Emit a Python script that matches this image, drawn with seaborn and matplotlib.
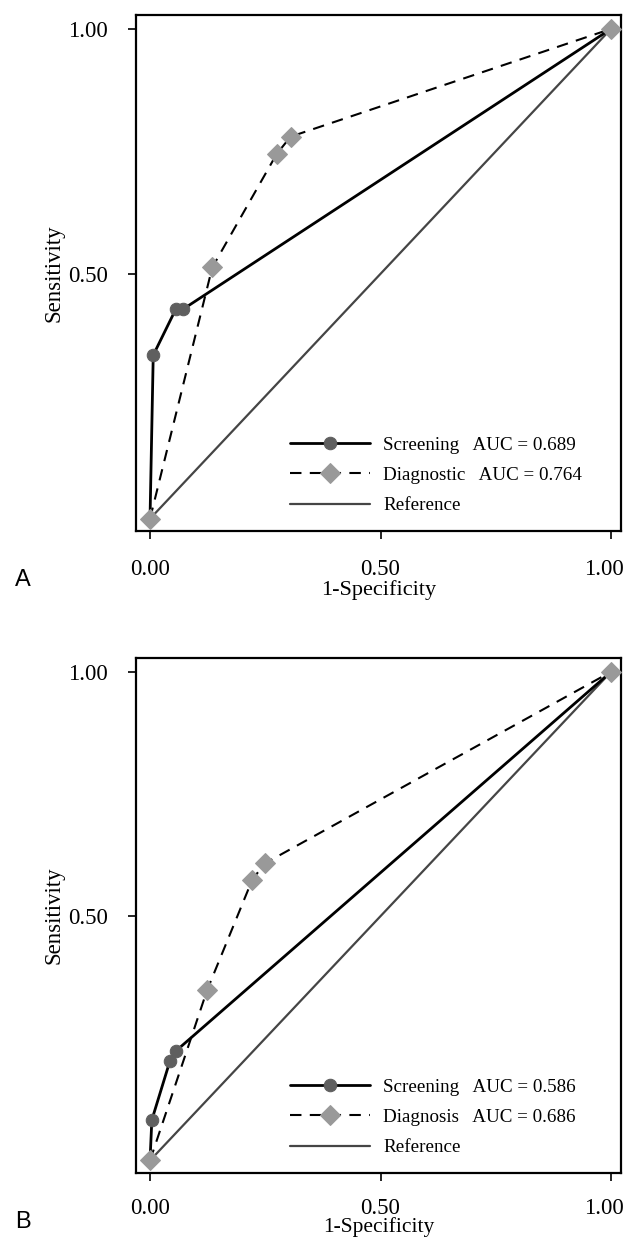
import matplotlib
matplotlib.use("Agg")
import matplotlib.pyplot as plt
import matplotlib.transforms as mtransforms
import seaborn as sns
import pandas as pd

sns.set_theme(style="white")
plt.rcParams['font.family'] = ['Liberation Serif', 'DejaVu Serif']

# Panel A data
a_screen_x = [0.0, 0.007, 0.056, 0.072, 1.0]
a_screen_y = [0.0, 0.334, 0.428, 0.428, 1.0]
a_diag_x = [0.0, 0.135, 0.275, 0.305, 1.0]
a_diag_y = [0.0, 0.513, 0.745, 0.780, 1.0]
a_labels = ["Screening   AUC = 0.689", "Diagnostic   AUC = 0.764", "Reference"]

# Panel B data
b_screen_x = [0.0, 0.004, 0.043, 0.056, 1.0]
b_screen_y = [0.0, 0.083, 0.203, 0.224, 1.0]
b_diag_x = [0.0, 0.124, 0.222, 0.249, 1.0]
b_diag_y = [0.0, 0.349, 0.575, 0.608, 1.0]
b_labels = ["Screening   AUC = 0.586", "Diagnosis   AUC = 0.686", "Reference"]

ref_x = [0.0, 1.0]
ref_y = [0.0, 1.0]

x_tick_vals = [0.0, 0.5, 1.0]
x_tick_labels = ["0.00", "0.50", "1.00"]
y_tick_vals = [0.5, 1.0]
y_tick_labels = ["0.50", "1.00"]

W, H = 623, 1238
fig = plt.figure(figsize=(W / 100, H / 100), dpi=100)

def px_axes(left, top, right, bottom):
    return fig.add_axes([left / W, 1 - bottom / H, (right - left) / W, (bottom - top) / H])

axA = px_axes(136, 14.7, 621, 531)
axB = px_axes(136, 657.7, 621, 1172.7)


def draw(ax, sx, sy, dx, dy, labels, xpad, xlabelpad, xlabelsize):
    sns.lineplot(x=ref_x, y=ref_y, ax=ax, color="#454545", linewidth=1.6,
                 sort=False, label=labels[2], zorder=2)
    sns.lineplot(x=sx, y=sy, ax=ax, color="black", linewidth=2.0,
                 marker="o", markersize=9, markerfacecolor="#5f5f5f",
                 markeredgecolor="#5f5f5f", sort=False, label=labels[0], zorder=3)
    sns.lineplot(x=dx, y=dy, ax=ax, color="black", linewidth=1.5,
                 linestyle=(0, (5.5, 4)), marker="D", markersize=10,
                 markerfacecolor="#999999", markeredgecolor="#999999",
                 sort=False, label=labels[1], zorder=4)
    ax.set_xlim(-0.0304, 1.0217)
    ax.set_ylim(-0.025, 1.029)
    ax.set_xticks(x_tick_vals)
    ax.set_xticklabels(x_tick_labels)
    ax.set_yticks(y_tick_vals)
    ax.set_yticklabels(y_tick_labels)
    ax.tick_params(axis="both", direction="out", length=6, width=1.2,
                   color="black", labelsize=16.5, labelcolor="black",
                   bottom=True, left=True)
    ax.tick_params(axis="y", pad=14)
    ax.tick_params(axis="x", pad=xpad)
    # keep the last x tick label inside the figure
    last = ax.get_xticklabels()[-1]
    last.set_transform(last.get_transform() +
                       mtransforms.ScaledTranslation(-7 / 100, 0, fig.dpi_scale_trans))
    ax.set_xlabel("1-Specificity", fontsize=xlabelsize, color="black", labelpad=xlabelpad)
    ax.set_ylabel("Sensitivity", fontsize=16.5, color="black", labelpad=3)
    for s in ax.spines.values():
        s.set_visible(True)
        s.set_color("black")
        s.set_linewidth(1.6)
    ax.grid(False)
    handles, labs = ax.get_legend_handles_labels()
    order = [labs.index(l) for l in labels]
    leg = ax.legend([handles[i] for i in order], [labs[i] for i in order],
                    loc="upper left", bbox_to_anchor=(0.3175, 0.183),
                    frameon=False, fontsize=13.7, handlelength=4.2,
                    handletextpad=0.7, labelspacing=0.68, borderpad=0,
                    borderaxespad=0)
    for t in leg.get_texts():
        t.set_color("black")

draw(axA, a_screen_x, a_screen_y, a_diag_x, a_diag_y, a_labels, 14, 0, 16)
draw(axB, b_screen_x, b_screen_y, b_diag_x, b_diag_y, b_labels, 12, -1, 15.5)

fig.text(23 / W, 1 - 580 / H, "A", family="Liberation Sans", fontsize=17,
         ha="center", va="center", color="black")
fig.text(23 / W, 1 - 1222 / H, "B", family="Liberation Sans", fontsize=17,
         ha="center", va="center", color="black")

fig.savefig("out.png", dpi=100)
